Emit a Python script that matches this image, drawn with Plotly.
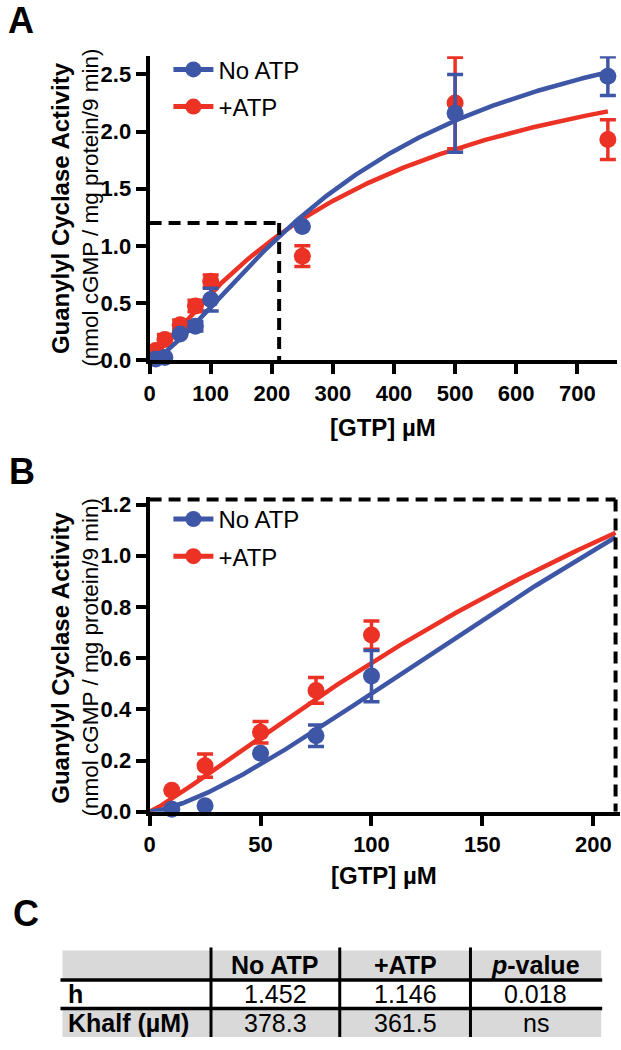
import numpy as np
import plotly.graph_objects as go

# ---------------- data ----------------
gtp_uM = [10, 25, 50, 75, 100, 250, 500, 750]
no_atp_mean = [0.01, 0.023, 0.228, 0.297, 0.53, 1.17, 2.16, 2.485]
no_atp_sem = [0.0, 0.0, 0.0, 0.042, 0.10, 0.0, 0.34, 0.17]
atp_mean = [0.084, 0.18, 0.31, 0.474, 0.69, 0.91, 2.25, 1.93]
atp_sem = [0.0, 0.045, 0.042, 0.05, 0.055, 0.09, 0.40, 0.174]

# Hill fit parameters (Vmax, h, Khalf)
fit_no_atp = [3.37, 1.452, 355.0]
fit_atp = [3.12, 1.146, 361.5]

# zoom region outlined by the dashed lines
box_a = [212, 1.20]
box_b = [210, 1.22]

xticks_a = [0, 100, 200, 300, 400, 500, 600, 700]
yticks_a = [0.0, 0.5, 1.0, 1.5, 2.0, 2.5]
xticks_b = [0, 50, 100, 150, 200]
yticks_b = [0.0, 0.2, 0.4, 0.6, 0.8, 1.0, 1.2]

table_header = ["", "No ATP", "+ATP", "<i>p</i>-value"]
row_labels = ["h", "Khalf (µM)"]
no_atp_vals = ["1.452", "378.3"]
atp_vals = ["1.146", "361.5"]
p_vals = ["0.018", "ns"]

BLUE = "#3E56A6"
RED = "#EC3125"
FONT = "Liberation Sans, Arial, Helvetica, sans-serif"
W, H = 621, 1050


def hill(x, p):
    x = np.asarray(x, float)
    vmax, h, k = p
    return vmax * x ** h / (k ** h + x ** h)


def px(x):
    return x / W


def py(y):
    return 1 - y / H


fig = go.Figure()

curve_a = np.linspace(0, 750, 400)
curve_b = np.linspace(0, 210, 200)

for (xa, ya, xr) in [("x", "y", curve_a), ("x2", "y2", curve_b)]:
    for mean, sem, fit, col in [(atp_mean, atp_sem, fit_atp, RED),
                                (no_atp_mean, no_atp_sem, fit_no_atp, BLUE)]:
        fig.add_trace(go.Scatter(x=xr, y=hill(xr, fit), mode="lines",
                                 line=dict(color=col, width=4.5),
                                 xaxis=xa, yaxis=ya, showlegend=False,
                                 hoverinfo="skip"))
        if xa == "x2":
            idx = [i for i, g in enumerate(gtp_uM) if g <= 210]
        else:
            idx = list(range(len(gtp_uM)))
        fig.add_trace(go.Scatter(
            x=[gtp_uM[i] for i in idx], y=[mean[i] for i in idx],
            mode="markers",
            marker=dict(color=col, size=17, line=dict(width=0)),
            error_y=dict(type="data", array=[sem[i] for i in idx],
                         color=col, thickness=3.5, width=8),
            xaxis=xa, yaxis=ya, showlegend=False, cliponaxis=False))

# legend entries
for lg, xa, ya in [("legend", "x", "y"), ("legend2", "x2", "y2")]:
    for name, col, rank in [("No ATP", BLUE, 1), ("+ATP", RED, 2)]:
        fig.add_trace(go.Scatter(x=[None], y=[None], mode="lines+markers",
                                 name=name, legend=lg, legendrank=rank,
                                 legendgroup=lg + name,
                                 line=dict(color=col, width=5),
                                 marker=dict(color=col, size=16),
                                 xaxis=xa, yaxis=ya))

# dashed zoom outlines
dash = dict(color="black", width=4, dash="12px,7px")
fig.add_shape(type="line", xref="x", yref="y", x0=0, x1=box_a[0], y0=box_a[1], y1=box_a[1], line=dash)
fig.add_shape(type="line", xref="x", yref="y", x0=box_a[0], x1=box_a[0], y0=box_a[1], y1=0, line=dash)
fig.add_shape(type="line", xref="x2", yref="y2", x0=0, x1=box_b[0], y0=box_b[1], y1=box_b[1], line=dash)
fig.add_shape(type="line", xref="x2", yref="y2", x0=box_b[0], x1=box_b[0], y0=box_b[1], y1=0, line=dash)

axis_common = dict(showline=True, linewidth=4, linecolor="black", ticks="outside",
                   ticklen=10, tickwidth=4, tickcolor="black", showgrid=False,
                   zeroline=False, tickfont=dict(family=FONT, size=22, color="black", weight="bold"))

legend_common = dict(xanchor="left", yanchor="top", font=dict(family=FONT, size=24),
                     bgcolor="rgba(0,0,0,0)", tracegroupgap=3, itemwidth=40)

fig.update_layout(
    width=W, height=H, margin=dict(l=0, r=0, t=0, b=0),
    paper_bgcolor="white", plot_bgcolor="white",
    font=dict(family=FONT, color="black"),
    xaxis=dict(domain=[px(145), px(617)], range=[0, 765], tickvals=xticks_a,
               anchor="y", **axis_common),
    yaxis=dict(domain=[py(362), py(53)], range=[0, 2.66], tickvals=yticks_a,
               tickformat=".1f", anchor="x", **axis_common),
    xaxis2=dict(domain=[px(145), px(620)], range=[0, 212], tickvals=xticks_b,
                anchor="y2", **axis_common),
    yaxis2=dict(domain=[py(821), py(501)], range=[0, 1.23], tickvals=yticks_b,
                tickformat=".1f", anchor="x2", **axis_common),
    legend=dict(x=px(164), y=py(44), **legend_common),
    legend2=dict(x=px(164), y=py(501), **legend_common),
)

ann = []


def add_text(x, y, text, size, angle=0, xanchor="center", bold=False):
    ann.append(dict(x=px(x), y=py(y), xref="paper", yref="paper", text=text,
                    showarrow=False, textangle=angle, xanchor=xanchor,
                    yanchor="middle",
                    font=dict(family=FONT, size=size, color="black",
                              weight="bold" if bold else "normal")))


# panel letters
add_text(0, 17, "A", 36, xanchor="left", bold=True)
add_text(1, 475, "B", 36, xanchor="left", bold=True)
add_text(5, 924, "C", 36, xanchor="left", bold=True)

# axis titles
for yc in [207, 664]:
    add_text(55, yc, "Guanylyl Cyclase Activity", 24, angle=-90, bold=True)
    add_text(85, yc, "(nmol cGMP / mg protein/9 min)", 22.5, angle=-90)
add_text(381, 430, "[GTP] µM", 24, bold=True)
add_text(382, 886, "[GTP] µM", 24, bold=True)

# ---------------- table ----------------
col_edges = [57, 207, 337, 469, 601]
row_edges = [962, 992, 1021, 1050]
GRAY = "#D9D9D9"
shapes = []
shapes.append(dict(type="rect", xref="paper", yref="paper", x0=px(col_edges[0]), x1=px(col_edges[-1]),
                   y0=py(row_edges[0]), y1=py(row_edges[1]), fillcolor=GRAY, line=dict(width=0), layer="below"))
shapes.append(dict(type="rect", xref="paper", yref="paper", x0=px(col_edges[0]), x1=px(col_edges[-1]),
                   y0=py(row_edges[2]), y1=py(row_edges[3]), fillcolor=GRAY, line=dict(width=0), layer="below"))
for ry in row_edges[1:3]:
    shapes.append(dict(type="line", xref="paper", yref="paper", x0=px(55), x1=px(602),
                       y0=py(ry), y1=py(ry), line=dict(color="black", width=3.5)))
for cx in col_edges[1:4]:
    shapes.append(dict(type="line", xref="paper", yref="paper", x0=px(cx), x1=px(cx),
                       y0=py(959), y1=py(1050), line=dict(color="black", width=3)))
for s in shapes:
    fig.add_shape(**s)

TS = 25
centers = [(col_edges[i] + col_edges[i + 1]) / 2 for i in range(4)]
ymid = [(row_edges[i] + row_edges[i + 1]) / 2 for i in range(3)]
for i in range(1, 4):
    add_text(centers[i], ymid[0], table_header[i], TS, bold=True)
for r in range(2):
    add_text(61, ymid[r + 1], row_labels[r], TS, xanchor="left", bold=True)
    add_text(centers[1], ymid[r + 1], no_atp_vals[r], TS)
    add_text(centers[2], ymid[r + 1], atp_vals[r], TS)
    add_text(centers[3], ymid[r + 1], p_vals[r], TS)

fig.update_layout(annotations=ann)
fig.write_html("out.html", config={"displayModeBar": False},
               post_script="document.body.style.margin='0';document.body.style.overflow='hidden';")
